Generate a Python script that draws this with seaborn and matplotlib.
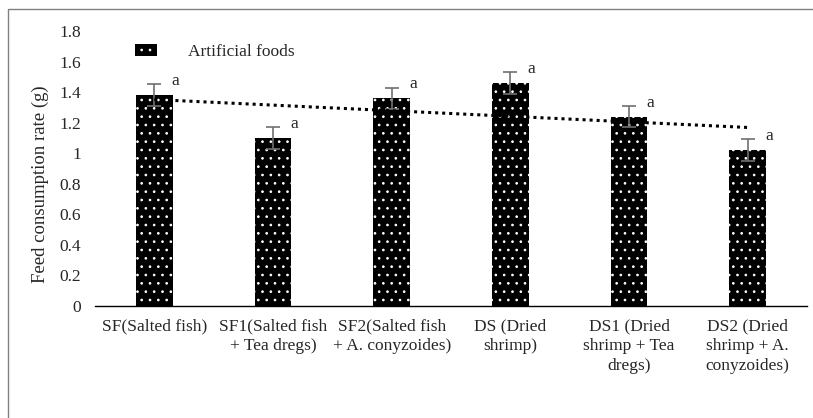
import numpy as np
import pandas as pd
import seaborn as sns
import matplotlib.pyplot as plt
from matplotlib.patches import Rectangle, Patch
from matplotlib.ticker import FuncFormatter, FixedLocator

#####################################################
## data
categories = ["SF(Salted fish)",
              "SF1(Salted fish\n+ Tea dregs)",
              "SF2(Salted fish\n+ A. conyzoides)",
              "DS (Dried\nshrimp)",
              "DS1 (Dried\nshrimp + Tea\ndregs)",
              "DS2 (Dried\nshrimp + A.\nconyzoides)"]
consumption = [1.38, 1.10, 1.36, 1.46, 1.24, 1.02]
errors = [0.07, 0.07, 0.07, 0.07, 0.07, 0.07]
letters = ["a", "a", "a", "a", "a", "a"]
#####################################################

sns.set_style("white")
plt.rcParams['font.family'] = ['Liberation Serif', 'DejaVu Serif']
plt.rcParams['hatch.color'] = 'white'
plt.rcParams['hatch.linewidth'] = 0.7

FS = 12.5

df = pd.DataFrame({'Food': categories, 'Rate': consumption})

fig = plt.figure(figsize=(8.13, 4.18), dpi=100)
ax = fig.add_axes([95/813, 1 - 306/418, 712/813, 275/418])

sns.barplot(data=df, x='Food', y='Rate', color='black', width=0.31,
            hatch='..', edgecolor='white', linewidth=0, saturation=1,
            errorbar=None, ax=ax)

x = np.arange(len(categories))
ax.errorbar(x, consumption, yerr=errors, fmt='none', ecolor='#707070',
            elinewidth=1.2, capsize=5, capthick=1.2, zorder=4)

for i, (v, e, l) in enumerate(zip(consumption, errors, letters)):
    ax.text(i + 0.18, v + e + 0.02, l, fontsize=FS, ha='center', va='center')

# linear trend line
coef = np.polyfit(x + 1, consumption, 1)
ax.plot(x, np.polyval(coef, x + 1), color='black', linestyle=(0, (1, 1.3)),
        linewidth=2.2, zorder=5)

ax.set_ylim(0, 1.8)
ax.set_xlim(-0.5, len(categories) - 0.5)
ax.set_yticks(np.arange(0, 1.81, 0.2))
ax.yaxis.set_major_formatter(FuncFormatter(lambda v, p: '%g' % round(v, 1)))
ax.set_xticks(x)
ax.set_xticklabels(categories, fontsize=FS, linespacing=1.33)
ax.xaxis.set_minor_locator(FixedLocator(np.arange(-0.5, len(categories), 1)))
ax.tick_params(axis='x', which='major', length=0, pad=9)
ax.tick_params(axis='x', which='minor', length=5, width=1, color='black', direction='out')
ax.tick_params(axis='y', length=0, labelsize=FS, pad=10)
ax.set_xlabel('')
ax.set_ylabel('Feed consumption rate (g)', fontsize=13.5)
ax.yaxis.set_label_coords(-0.064, 0.444)

for s in ['top', 'right', 'left']:
    ax.spines[s].set_visible(False)
ax.spines['bottom'].set_color('black')
ax.spines['bottom'].set_linewidth(1)

handle = Patch(facecolor='black', edgecolor='white', linewidth=0, hatch='..')
ax.legend([handle], ['Artificial foods'], loc='center left',
          bbox_to_anchor=(0.056, 0.924), frameon=False, fontsize=FS,
          handlelength=1.25, handleheight=0.7, handletextpad=1.8,
          borderpad=0, borderaxespad=0)

# outer chart frame
fig.patches.append(Rectangle((8/813, -0.1), 1.1, 1.1 - 9/418,
                             transform=fig.transFigure, fill=False,
                             edgecolor='#808080', linewidth=1))

fig.savefig('out.png', dpi=100)
